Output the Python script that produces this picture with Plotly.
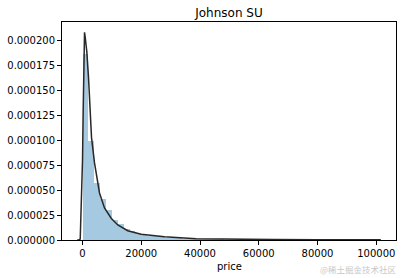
import plotly.graph_objects as go

# ---- data ----
bin_width = 2000
bin_starts = [0, 2000, 4000, 6000, 8000, 10000, 12000, 14000, 16000, 18000,
              20000, 22000, 24000, 26000, 28000, 30000, 32000, 34000, 36000, 38000,
              40000, 42000, 44000, 46000, 48000, 50000, 52000, 54000, 56000, 58000,
              60000, 62000, 64000, 66000, 68000, 70000, 72000, 74000, 76000, 78000,
              80000, 82000, 84000, 86000, 88000, 90000, 92000, 94000, 96000, 98000]
densities = [0.000187, 0.0000995, 0.0000573, 0.000041, 0.000030, 0.0000200, 0.0000161, 0.0000115, 0.0000095, 0.0000068,
             0.0000055, 0.0000045, 0.0000038, 0.0000030, 0.0000025, 0.0000020, 0.0000017, 0.0000014, 0.0000012, 0.0000010,
             0.0000009, 0.0000008, 0.0000007, 0.0000006, 0.0000005, 0.0000005, 0.0000004, 0.0000004, 0.0000004, 0.0000003,
             0.0000003, 0.0000003, 0.0000003, 0.0000002, 0.0000002, 0.0000002, 0.0000002, 0.0000002, 0.0000002, 0.0000002,
             0.0000002, 0.0000001, 0.0000001, 0.0000001, 0.0000001, 0.0000001, 0.0000001, 0.0000001, 0.0000001, 0.0000001]

curve_x = [-1817, -1200, -780, -400, 0, 200, 350, 500, 680, 900, 1200, 1460, 2040, 2620,
           3060, 4080, 5000, 5780, 7480, 9760, 12000, 15400, 19960, 27900, 38670,
           50000, 65000, 80000, 101544]
curve_y = [0.0, 0.0000001, 0.000001, 0.00003, 0.00008, 0.000125, 0.00017, 0.0002, 0.0002084,
           0.000204, 0.000196, 0.000189, 0.000163, 0.00013, 0.000103, 0.0000774, 0.000059,
           0.0000472, 0.0000322, 0.0000218, 0.0000151, 0.0000093, 0.0000057, 0.0000033,
           0.0000013, 0.0000007, 0.0000004, 0.00000025, 0.00000015]

x_ticks = [0, 20000, 40000, 60000, 80000, 100000]
y_ticks = [0.0, 0.000025, 0.00005, 0.000075, 0.0001, 0.000125, 0.00015, 0.000175, 0.0002]

title_text = "Johnson SU"
x_label = "price"
watermark = "@稀土掘金技术社区"

# ---- figure ----
bin_centers = [s + bin_width / 2 for s in bin_starts]

fig = go.Figure()
fig.add_trace(go.Bar(
    x=bin_centers, y=densities, width=[bin_width] * len(bin_centers),
    marker=dict(color="rgba(31,119,180,0.4)", line=dict(width=0)),
    hoverinfo="skip", showlegend=False,
))
fig.add_trace(go.Scatter(
    x=curve_x, y=curve_y, mode="lines",
    line=dict(color="#282828", width=1.5),
    hoverinfo="skip", showlegend=False,
))

font = "DejaVu Sans, Liberation Sans, sans-serif"
axis_common = dict(
    showline=True, linecolor="black", linewidth=1, mirror=True,
    ticks="outside", ticklen=4, tickwidth=1, tickcolor="black",
    showgrid=False, zeroline=False,
    tickfont=dict(family=font, size=10, color="black"),
)

fig.update_layout(
    width=403, height=278,
    margin=dict(l=62, r=7, t=22, b=38),
    paper_bgcolor="white", plot_bgcolor="white",
    bargap=0,
    xaxis=dict(range=[-6985, 106712], tickvals=x_ticks, tickformat="d", **axis_common),
    yaxis=dict(range=[0, 0.0002188], tickvals=y_ticks, tickformat=".6f", **axis_common),
    title=dict(text=title_text, x=229 / 403, xanchor="center",
               y=1 - 13 / 278, yanchor="middle", yref="container",
               font=dict(family=font, size=12, color="black")),
    annotations=[
        dict(text=x_label, xref="paper", yref="paper", x=0.5, y=(240 - 266.5) / 218,
             xanchor="center", yanchor="middle", showarrow=False,
             font=dict(family=font, size=10, color="black")),
        dict(text=watermark, xref="paper", yref="paper",
             x=(399 - 62) / 334, y=(240 - 268.5) / 218,
             xanchor="right", yanchor="middle", showarrow=False,
             font=dict(family="Noto Sans CJK SC", size=8.5, color="#c8c8c8")),
    ],
)

fig.write_html("out.html")
